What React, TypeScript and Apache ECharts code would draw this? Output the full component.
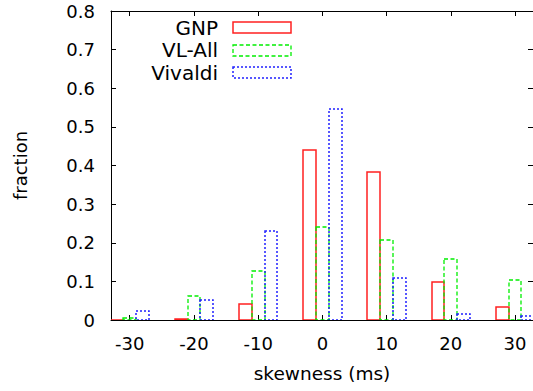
import React, { useEffect, useRef } from "react";
import * as echarts from "echarts";

const xTicks = [-30, -20, -10, 0, 10, 20, 30];
const seriesNames = ["GNP", "VL-All", "Vivaldi"];
const gnp = [0, 0.003, 0.042, 0.44, 0.383, 0.098, 0.033];
const vlAll = [0.006, 0.063, 0.126, 0.24, 0.206, 0.158, 0.103];
const vivaldi = [0.024, 0.052, 0.231, 0.546, 0.108, 0.015, 0.011];
const yTicks = [0, 0.1, 0.2, 0.3, 0.4, 0.5, 0.6, 0.7, 0.8];

const colors = ["#ff2020", "#00ee00", "#2020ff"];
const widths = [1.5, 1.3, 1.5];
const dashes: (number[] | null)[] = [null, [4, 2.5], [2, 2]];
const offsets = [-2, 0, 2];
const FONT = "DejaVu Sans";

export default function App() {
  const ref = useRef<HTMLDivElement>(null);
  useEffect(() => {
    if (!ref.current) return;
    const chart = echarts.init(ref.current, null, { renderer: "svg" });
    const allData = [gnp, vlAll, vivaldi];
    const gridLeft = 111;
    const gridTop = 11;
    const gridW = 423;
    const gridH = 309;
    const xMin = -32.92;
    const xMax = 32.8;
    const tickStyle = { show: true, inside: true, length: 5, lineStyle: { color: "#000", width: 1 } };
    const labelStyle = { fontFamily: FONT, fontSize: 18, color: "#000" };
    const lineStyle = { show: true, onZero: false, lineStyle: { color: "#000", width: 1 } };

    const series = allData.map((vals, si) => ({
      type: "custom",
      name: seriesNames[si],
      xAxisIndex: 0,
      yAxisIndex: 0,
      data: xTicks.map((x, i) => [x, vals[i]]),
      renderItem: (params: any, api: any) => {
        const x = api.value(0);
        const y = api.value(1);
        const p0 = api.coord([x + offsets[si] - 1, y]);
        const p1 = api.coord([x + offsets[si] + 1, 0]);
        const x0 = Math.round(p0[0]);
        const x1 = Math.round(p1[0]);
        const y0 = Math.round(p0[1]);
        const y1 = Math.round(p1[1]);
        return {
          type: "rect",
          shape: { x: x0, y: y0, width: x1 - x0, height: y1 - y0 },
          style: {
            fill: "none",
            stroke: colors[si],
            lineWidth: widths[si],
            lineDash: dashes[si] || undefined,
          },
        };
      },
      clip: true,
      z: 3,
    }));

    const legendEls: any[] = [];
    seriesNames.forEach((name, i) => {
      const cy = 27.5 + i * 22.5;
      legendEls.push({
        type: "text",
        style: {
          text: name,
          x: 218,
          y: cy,
          align: "right",
          verticalAlign: "middle",
          fontFamily: FONT,
          fontSize: 20,
          fill: "#000",
        },
      });
      legendEls.push({
        type: "rect",
        shape: { x: 233, y: Math.round(cy - 5.5), width: 58, height: 11 },
        style: { fill: "none", stroke: colors[i], lineWidth: widths[i], lineDash: dashes[i] || undefined },
      });
    });

    chart.setOption({
      animation: false,
      grid: { left: gridLeft, top: gridTop, width: gridW, height: gridH, show: false },
      xAxis: [
        {
          type: "value",
          position: "bottom",
          min: xMin,
          max: xMax,
          name: "skewness (ms)",
          nameLocation: "middle",
          nameGap: 43,
          nameTextStyle: { ...labelStyle, fontSize: 18.5, lineHeight: 20 },
          axisLine: lineStyle,
          axisTick: { ...tickStyle, customValues: xTicks },
          axisLabel: { ...labelStyle, margin: 14, lineHeight: 18, customValues: xTicks, formatter: (v: number) => String(v) },
          splitLine: { show: false },
        },
        {
          type: "value",
          position: "top",
          min: xMin,
          max: xMax,
          axisLine: lineStyle,
          axisTick: { ...tickStyle, customValues: xTicks },
          axisLabel: { show: false },
          splitLine: { show: false },
        },
      ],
      yAxis: [
        {
          type: "value",
          position: "left",
          min: 0,
          max: 0.8,
          interval: 0.1,
          name: "fraction",
          nameLocation: "middle",
          nameRotate: 90,
          nameGap: 81,
          nameTextStyle: { ...labelStyle, lineHeight: 20 },
          axisLine: lineStyle,
          axisTick: tickStyle,
          axisLabel: {
            ...labelStyle,
            margin: 16,
            formatter: (v: number) => {
              const t = yTicks.find((k) => Math.abs(k - v) < 1e-6);
              return t === 0 ? "0" : (t ?? v).toFixed(1);
            },
          },
          splitLine: { show: false },
        },
        {
          type: "value",
          position: "right",
          min: 0,
          max: 0.8,
          interval: 0.1,
          axisLine: lineStyle,
          axisTick: tickStyle,
          axisLabel: { show: false },
          splitLine: { show: false },
        },
      ],
      series,
      graphic: legendEls,
    });
    return () => chart.dispose();
  }, []);
  return (
    <div
      ref={ref}
      style={{ position: "fixed", left: 0, top: 0, width: 533, height: 391, background: "#fff" }}
    />
  );
}
